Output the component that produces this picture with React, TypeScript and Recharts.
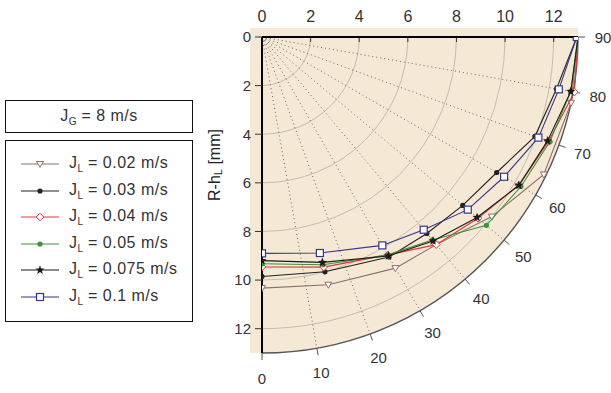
import React from "react";
import * as R from "recharts";

const { ScatterChart, Scatter, XAxis, YAxis, Customized } = R as any;

// radius axis (mm) and angle labels (deg)
const R_MAX = 13;
const RADIUS_TICKS = [0, 2, 4, 6, 8, 10, 12];
const GRID_RADII = [2, 4, 6, 8, 10, 12];
const ANGLE_TICKS = [0, 10, 20, 30, 40, 50, 60, 70, 80, 90];

// series: angle (deg) and R-hL (mm)
const JL002_ANG = [0, 15, 30, 40, 52, 64, 78, 90];
const JL002_R = [10.33, 10.55, 10.98, 11.15, 12.0, 12.9, 13.0, 13.0];

const JL003_ANG = [0, 15, 30, 40, 50, 60, 70, 80, 90];
const JL003_R = [9.85, 10.0, 10.45, 10.55, 10.78, 11.15, 11.95, 12.3, 12.95];

const JL004_ANG = [0, 15, 30, 40, 50, 60, 70, 80, 90];
const JL004_R = [9.46, 9.8, 10.35, 11.15, 11.6, 12.2, 12.55, 13.05, 13.0];

const JL005_ANG = [0, 15, 30, 40, 50, 60, 70, 80, 90];
const JL005_R = [9.33, 9.7, 10.35, 10.9, 12.05, 12.3, 12.6, 12.9, 13.0];

const JL0075_ANG = [0, 15, 30, 40, 50, 60, 70, 80, 90];
const JL0075_R = [9.2, 9.6, 10.4, 10.95, 11.55, 12.2, 12.5, 12.9, 13.0];

const JL01_ANG = [0, 15, 30, 40, 50, 60, 70, 80, 90];
const JL01_R = [8.9, 9.2, 9.9, 10.35, 11.05, 11.5, 12.1, 12.4, 12.95];

const FONT = "'Liberation Sans', Arial, sans-serif";
const usePlotArea = (R as any).usePlotArea;

function toXY(ang: number[], r: number[]) {
	return ang.map((a, i) => {
		const t = (a * Math.PI) / 180;
		return { x: r[i] * Math.sin(t), y: r[i] * Math.cos(t) };
	});
}

type Kind = "tri" | "dot" | "diamond" | "star" | "square";

function Marker({ kind, cx, cy, color }: { kind: Kind; cx: number; cy: number; color: string }) {
	if (kind === "tri")
		return (
			<path
				d={`M${cx - 3.5},${cy - 2.5}L${cx + 3.5},${cy - 2.5}L${cx},${cy + 3.5}Z`}
				fill="#fff"
				stroke={color}
				strokeWidth={1}
			/>
		);
	if (kind === "dot") return <circle cx={cx} cy={cy} r={2.6} fill={color} />;
	if (kind === "diamond")
		return (
			<path
				d={`M${cx},${cy - 3.8}L${cx + 3.8},${cy}L${cx},${cy + 3.8}L${cx - 3.8},${cy}Z`}
				fill="#fff"
				stroke={color}
				strokeWidth={1}
			/>
		);
	if (kind === "star") {
		let d = "";
		for (let i = 0; i < 10; i++) {
			const rr = i % 2 === 0 ? 4.8 : 2;
			const t = (Math.PI / 5) * i - Math.PI / 2;
			d += `${i === 0 ? "M" : "L"}${cx + rr * Math.cos(t)},${cy + rr * Math.sin(t)}`;
		}
		return <path d={d + "Z"} fill={color} />;
	}
	return <rect x={cx - 3.5} y={cy - 3.5} width={7} height={7} fill="#fff" stroke={color} strokeWidth={1.2} />;
}

const SERIES = [
	{ name: "0.02", data: toXY(JL002_ANG, JL002_R), color: "#8e6f6a", kind: "tri" as Kind },
	{ name: "0.03", data: toXY(JL003_ANG, JL003_R), color: "#222222", kind: "dot" as Kind },
	{ name: "0.04", data: toXY(JL004_ANG, JL004_R), color: "#e2383c", kind: "diamond" as Kind },
	{ name: "0.05", data: toXY(JL005_ANG, JL005_R), color: "#3b913b", kind: "dot" as Kind },
	{ name: "0.075", data: toXY(JL0075_ANG, JL0075_R), color: "#1a1a1a", kind: "star" as Kind },
	{ name: "0.1", data: toXY(JL01_ANG, JL01_R), color: "#34348e", kind: "square" as Kind },
];

function PolarBackdrop() {
	const area = usePlotArea ? usePlotArea() : null;
	const ox = area ? area.x : 262;
	const oy = area ? area.y : 37;
	const k = (area ? area.width : 316) / R_MAX;
	const Rp = R_MAX * k;
	const at = (deg: number, px: number) => {
		const t = (deg * Math.PI) / 180;
		return [ox + px * Math.sin(t), oy + px * Math.cos(t)];
	};
	return (
		<g>
			<path
				d={`M${ox - 12},${oy - 9}L${ox + Rp},${oy - 9}L${ox + Rp},${oy}A${Rp},${Rp} 0 0 1 ${ox},${oy + Rp}L${ox - 12},${oy + Rp}Z`}
				fill="#f5e9d5"
			/>
			{GRID_RADII.map((r) => (
				<path
					key={r}
					d={`M${ox},${oy + r * k}A${r * k},${r * k} 0 0 0 ${ox + r * k},${oy}`}
					fill="none"
					stroke="#c4bcaf"
					strokeWidth={1}
				/>
			))}
			{ANGLE_TICKS.filter((a) => a > 0 && a < 90).map((a) => {
				const [x, y] = at(a, Rp);
				return (
					<line key={a} x1={ox} y1={oy} x2={x} y2={y} stroke="#666" strokeWidth={1} strokeDasharray="1 3" />
				);
			})}
			<path d={`M${ox},${oy + Rp}A${Rp},${Rp} 0 0 0 ${ox + Rp},${oy}`} fill="none" stroke="#555" strokeWidth={1.4} />
			{ANGLE_TICKS.map((a) => {
				const [x1, y1] = at(a, Rp);
				const [x2, y2] = at(a, Rp + 7);
				const [tx, ty] = at(a, Rp + 25);
				return (
					<g key={a}>
						<line x1={x1} y1={y1} x2={x2} y2={y2} stroke="#555" strokeWidth={1} />
						<text
							x={tx}
							y={ty}
							textAnchor="middle"
							dominantBaseline="central"
							fontFamily={FONT}
							fontSize={15}
							fill="#333"
						>
							{a}
						</text>
					</g>
				);
			})}
			{RADIUS_TICKS.map((r) => (
				<line key={r} x1={ox + r * k} y1={oy} x2={ox + r * k} y2={oy + 5} stroke="#333" strokeWidth={1} />
			))}
			<text
				transform={`translate(${ox - 48},${oy + 128}) rotate(-90)`}
				textAnchor="middle"
				dominantBaseline="central"
				fontFamily={FONT}
				fontSize={16}
				fill="#222"
			>
				R-h<tspan fontSize={11} dy={4}>L</tspan>
				<tspan dy={-4}> [mm]</tspan>
			</text>
		</g>
	);
}

function LegendIcon({ color, kind }: { color: string; kind: Kind }) {
	return (
		<svg width={40} height={12} style={{ display: "block" }}>
			<line x1={1} y1={6} x2={39} y2={6} stroke={color} strokeWidth={1.2} />
			<Marker kind={kind} cx={20} cy={6} color={color} />
		</svg>
	);
}

const subStyle: React.CSSProperties = { fontSize: 10, verticalAlign: -4, letterSpacing: 0 };

export default function App() {
	return (
		<div style={{ position: "absolute", left: 0, top: 0, width: 611, height: 393, background: "#fff", fontFamily: FONT }}>
			<ScatterChart width={611} height={393} margin={{ top: 7, left: 232, right: 33, bottom: 40 }}>
				<Customized component={<PolarBackdrop />} />
				<XAxis
					type="number"
					dataKey="x"
					orientation="top"
					domain={[0, R_MAX]}
					ticks={RADIUS_TICKS}
					height={30}
					tickLine={false}
					tickMargin={9}
					axisLine={{ stroke: "#000", strokeWidth: 2 }}
					tick={{ fill: "#333", fontSize: 16, fontFamily: FONT }}
					allowDataOverflow
				/>
				<YAxis
					type="number"
					dataKey="y"
					reversed
					domain={[0, R_MAX]}
					ticks={RADIUS_TICKS}
					width={30}
					tickSize={7}
					tickMargin={4}
					tickLine={{ stroke: "#333" }}
					axisLine={{ stroke: "#000", strokeWidth: 2 }}
					tick={{ fill: "#333", fontSize: 15, fontFamily: FONT }}
					allowDataOverflow
				/>
				{SERIES.map((s) => (
					<Scatter
						key={s.name}
						name={s.name}
						data={s.data}
						line={{ stroke: s.color, strokeWidth: 1.1 }}
						isAnimationActive={false}
						shape={(p: any) => <Marker kind={s.kind} cx={p.cx} cy={p.cy} color={s.color} />}
					/>
				))}
			</ScatterChart>
			<div
				style={{
					position: "absolute",
					left: 5,
					top: 100,
					width: 186,
					height: 31,
					border: "1.5px solid #111",
					display: "flex",
					alignItems: "center",
					justifyContent: "center",
					fontSize: 16,
					letterSpacing: 0.5,
					color: "#333",
				}}
			>
				<span>
					J<span style={subStyle}>G</span> = 8 m/s
				</span>
			</div>
			<div
				style={{
					position: "absolute",
					left: 5,
					top: 140,
					width: 186,
					height: 180,
					border: "1.5px solid #111",
				}}
			>
				{SERIES.map((s, i) => (
					<div
						key={s.name}
						style={{
							position: "absolute",
							left: 14,
							top: 13 + i * 26.5,
							height: 20,
							display: "flex",
							alignItems: "center",
							gap: 9,
							fontSize: 16,
							letterSpacing: 0.5,
							color: "#333",
							whiteSpace: "nowrap",
						}}
					>
						<LegendIcon color={s.color} kind={s.kind} />
						<span>
							J<span style={subStyle}>L</span> = {s.name} m/s
						</span>
					</div>
				))}
			</div>
		</div>
	);
}
